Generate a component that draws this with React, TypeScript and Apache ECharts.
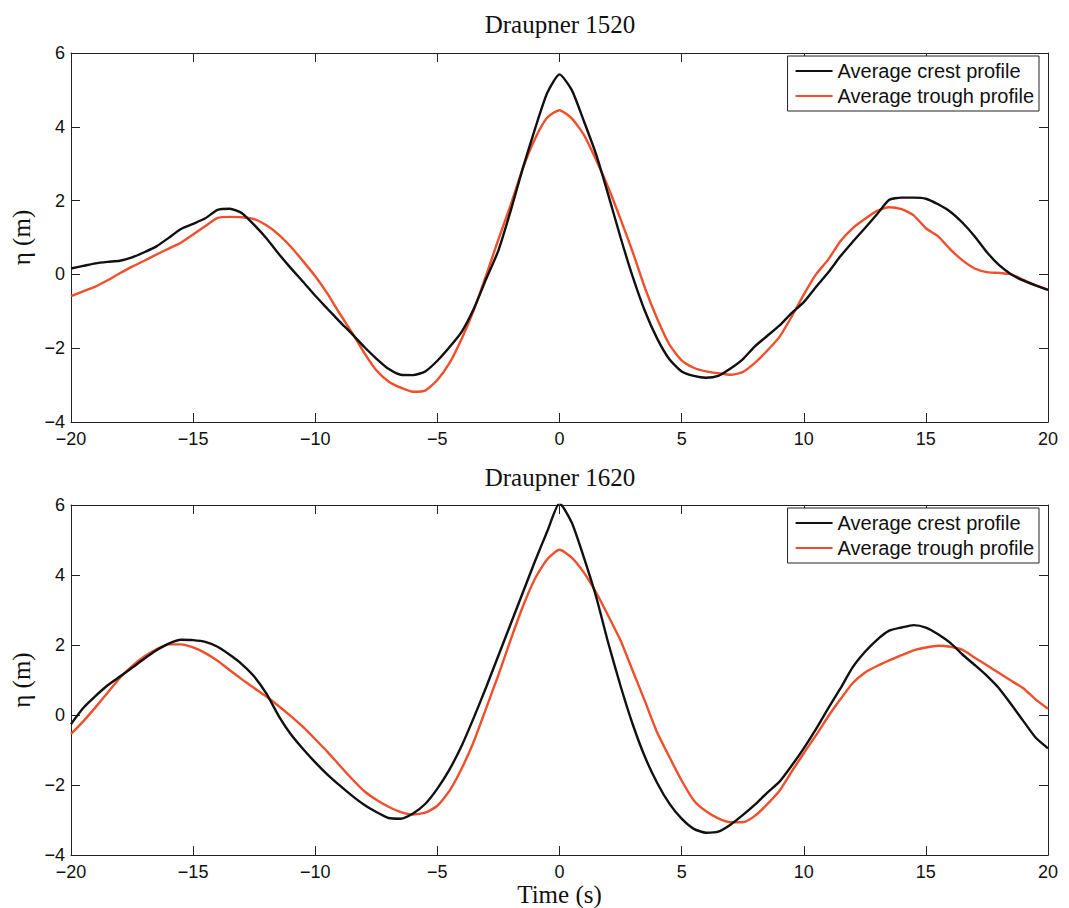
import React, { useEffect, useRef } from "react";
import * as echarts from "echarts";

// Time axis (s)
const time = [
  -20, -19.5, -19, -18.5, -18, -17.5, -17, -16.5, -16, -15.5, -15, -14.5, -14, -13.5, -13, -12.5, -12, -11.5, -11, -10.5,
  -10, -9.5, -9, -8.5, -8, -7.5, -7, -6.5, -6, -5.5, -5, -4.5, -4, -3.5, -3, -2.5, -2, -1.5, -1, -0.5,
  0, 0.5, 1, 1.5, 2, 2.5, 3, 3.5, 4, 4.5, 5, 5.5, 6, 6.5, 7, 7.5, 8, 8.5, 9, 9.5,
  10, 10.5, 11, 11.5, 12, 12.5, 13, 13.5, 14, 14.5, 15, 15.5, 16, 16.5, 17, 17.5, 18, 18.5, 19, 19.5, 20,
];

// Draupner 1520
const crest1520 = [
  0.16, 0.23, 0.3, 0.34, 0.37, 0.46, 0.6, 0.76, 0.99, 1.23, 1.37, 1.52, 1.75, 1.78, 1.66, 1.34, 0.98, 0.56, 0.17, -0.2,
  -0.58, -0.93, -1.28, -1.61, -1.96, -2.28, -2.56, -2.72, -2.73, -2.63, -2.34, -1.97, -1.55, -0.92, -0.12, 0.65, 1.72, 2.88, 3.95, 4.92,
  5.42, 5.0, 4.15, 3.25, 2.15, 1.0, -0.07, -1.0, -1.74, -2.3, -2.63, -2.75, -2.8, -2.75, -2.55, -2.3, -1.95, -1.67, -1.39, -1.05,
  -0.75, -0.34, 0.05, 0.49, 0.88, 1.25, 1.63, 2.02, 2.08, 2.08, 2.05, 1.9, 1.7, 1.4, 1.03, 0.6, 0.25, 0.0, -0.17, -0.3, -0.42,
];
const trough1520 = [
  -0.59, -0.46, -0.33, -0.16, 0.03, 0.21, 0.37, 0.54, 0.7, 0.86, 1.08, 1.31, 1.53, 1.56, 1.55, 1.5, 1.33, 1.08, 0.75, 0.36,
  -0.05, -0.52, -1.06, -1.57, -2.12, -2.6, -2.9, -3.07, -3.18, -3.15, -2.86, -2.4, -1.74, -0.95, -0.02, 0.95, 1.88, 2.88, 3.68, 4.25,
  4.45, 4.23, 3.78, 3.1, 2.35, 1.5, 0.6, -0.37, -1.2, -1.9, -2.33, -2.53, -2.63, -2.68, -2.72, -2.65, -2.4, -2.07, -1.7, -1.15,
  -0.55, 0.0, 0.4, 0.9, 1.25, 1.5, 1.72, 1.82, 1.77, 1.6, 1.25, 1.03, 0.68, 0.38, 0.16, 0.06, 0.04, 0.0, -0.15, -0.3, -0.42,
];

// Draupner 1620
const crest1620 = [
  -0.26, 0.2, 0.54, 0.85, 1.1, 1.35, 1.61, 1.85, 2.04, 2.15, 2.14, 2.09, 1.95, 1.72, 1.45, 1.1, 0.61, -0.02, -0.55, -0.97,
  -1.35, -1.7, -2.01, -2.3, -2.56, -2.77, -2.94, -2.96, -2.81, -2.54, -2.1, -1.55, -0.87, -0.06, 0.8, 1.7, 2.6, 3.5, 4.4, 5.25,
  6.05, 5.5, 4.5, 3.38, 2.05, 0.83, -0.27, -1.2, -1.94, -2.53, -2.96, -3.25, -3.36, -3.33, -3.13, -2.86, -2.56, -2.22, -1.91, -1.45,
  -0.95, -0.4, 0.19, 0.76, 1.36, 1.8, 2.15, 2.41, 2.5, 2.57, 2.5, 2.31, 2.06, 1.73, 1.43, 1.12, 0.76, 0.3, -0.18, -0.65, -0.95,
];
const trough1620 = [
  -0.54, -0.18, 0.22, 0.64, 1.06, 1.4, 1.67, 1.88, 2.02, 2.02, 1.93, 1.77, 1.55, 1.28, 1.02, 0.77, 0.53, 0.26, -0.03, -0.34,
  -0.69, -1.05, -1.44, -1.82, -2.17, -2.42, -2.62, -2.77, -2.84, -2.79, -2.59, -2.16, -1.52, -0.74, 0.2, 1.15, 2.15, 3.1, 3.9, 4.45,
  4.72, 4.5, 4.07, 3.5, 2.83, 2.13, 1.26, 0.39, -0.5, -1.2, -1.87, -2.44, -2.75, -2.95, -3.06, -3.06, -2.88, -2.55, -2.17, -1.62,
  -1.09, -0.58, -0.04, 0.45, 0.91, 1.21, 1.4, 1.56, 1.71, 1.85, 1.93, 1.98, 1.95, 1.86, 1.64, 1.42, 1.2, 0.98, 0.76, 0.44, 0.18,
];

const titles = ["Draupner 1520", "Draupner 1620"];
const seriesNames = ["Average crest profile", "Average trough profile"];
const xLabel = "Time (s)";
const yLabel = "η (m)";

const BLACK = "#111111";
const RED = "#ef4f2b";
const AXIS = "#222222";
const SANS = "'Liberation Sans', Arial, Helvetica, sans-serif";
const SERIF = "'Liberation Serif', 'Times New Roman', serif";

const fmt = (v: number) => (v < 0 ? "\u2212" + Math.abs(v) : String(v));

function xAxisDef(gridIndex: number, position: string, showLabel: boolean, name?: string) {
  return {
    type: "value",
    gridIndex,
    position,
    min: -20,
    max: 20,
    interval: 5,
    name: name || "",
    nameLocation: "middle",
    nameGap: 22,
    nameTextStyle: { fontFamily: SERIF, fontSize: 25, color: BLACK },
    axisLine: { show: true, onZero: false, lineStyle: { color: AXIS, width: 1 } },
    axisTick: { show: true, inside: true, length: 9, lineStyle: { color: AXIS, width: 1 } },
    axisLabel: { show: showLabel, color: BLACK, fontSize: 18, fontFamily: SANS, margin: 8, formatter: fmt },
    splitLine: { show: false },
  };
}

function yAxisDef(gridIndex: number, position: string, showLabel: boolean, name?: string) {
  return {
    type: "value",
    gridIndex,
    position,
    min: -4,
    max: 6,
    interval: 2,
    name: name || "",
    nameLocation: "middle",
    nameGap: 34,
    nameRotate: 90,
    nameTextStyle: { fontFamily: SERIF, fontSize: 25, color: BLACK },
    axisLine: { show: true, onZero: false, lineStyle: { color: AXIS, width: 1 } },
    axisTick: { show: true, inside: true, length: 9, lineStyle: { color: AXIS, width: 1 } },
    axisLabel: { show: showLabel, color: BLACK, fontSize: 18, fontFamily: SANS, margin: 6, formatter: fmt },
    splitLine: { show: false },
  };
}

function legendDef(top: number) {
  return {
    show: true,
    orient: "vertical",
    right: 30,
    top,
    data: seriesNames,
    icon: "rect",
    itemWidth: 37,
    itemHeight: 2,
    itemGap: 5,
    padding: [5, 5, 5, 8],
    borderColor: AXIS,
    borderWidth: 1,
    backgroundColor: "#ffffff",
    selectedMode: false,
    textStyle: { fontFamily: SANS, fontSize: 20, color: BLACK },
  };
}

function lineSeries(name: string, values: number[], color: string, axisIdx: number) {
  return {
    type: "line",
    name,
    xAxisIndex: axisIdx,
    yAxisIndex: axisIdx,
    data: time.map((t, i) => [t, values[i]]),
    showSymbol: false,
    symbol: "none",
    smooth: 0.2,
    lineStyle: { color, width: 2.4 },
    itemStyle: { color },
    z: color === BLACK ? 3 : 2,
  };
}

export default function App() {
  const ref = useRef<HTMLDivElement>(null);

  useEffect(() => {
    if (!ref.current) return;
    const chart = echarts.init(ref.current, null, { renderer: "svg" });
    chart.setOption({
      animation: false,
      backgroundColor: "#ffffff",
      grid: [
        { left: 71, right: 21, top: 53, height: 369, containLabel: false },
        { left: 71, right: 21, top: 505, height: 352, containLabel: false },
      ],
      xAxis: [
        xAxisDef(0, "bottom", true),
        xAxisDef(1, "bottom", true, xLabel),
        xAxisDef(0, "top", false),
        xAxisDef(1, "top", false),
      ],
      yAxis: [
        yAxisDef(0, "left", true, yLabel),
        yAxisDef(1, "left", true, yLabel),
        yAxisDef(0, "right", false),
        yAxisDef(1, "right", false),
      ],
      legend: [legendDef(56), legendDef(508)],
      graphic: [
        {
          type: "text",
          x: 560,
          y: 24,
          style: { text: titles[0], font: `25px ${SERIF}`, fill: BLACK, textAlign: "center", textVerticalAlign: "middle" },
        },
        {
          type: "text",
          x: 560,
          y: 477,
          style: { text: titles[1], font: `25px ${SERIF}`, fill: BLACK, textAlign: "center", textVerticalAlign: "middle" },
        },
      ],
      series: [
        lineSeries(seriesNames[1], trough1520, RED, 0),
        lineSeries(seriesNames[0], crest1520, BLACK, 0),
        lineSeries(seriesNames[1], trough1620, RED, 1),
        lineSeries(seriesNames[0], crest1620, BLACK, 1),
      ],
    });
    return () => chart.dispose();
  }, []);

  return (
    <div
      ref={ref}
      style={{ position: "absolute", left: 0, top: 0, width: 1069, height: 908, background: "#ffffff" }}
    />
  );
}
